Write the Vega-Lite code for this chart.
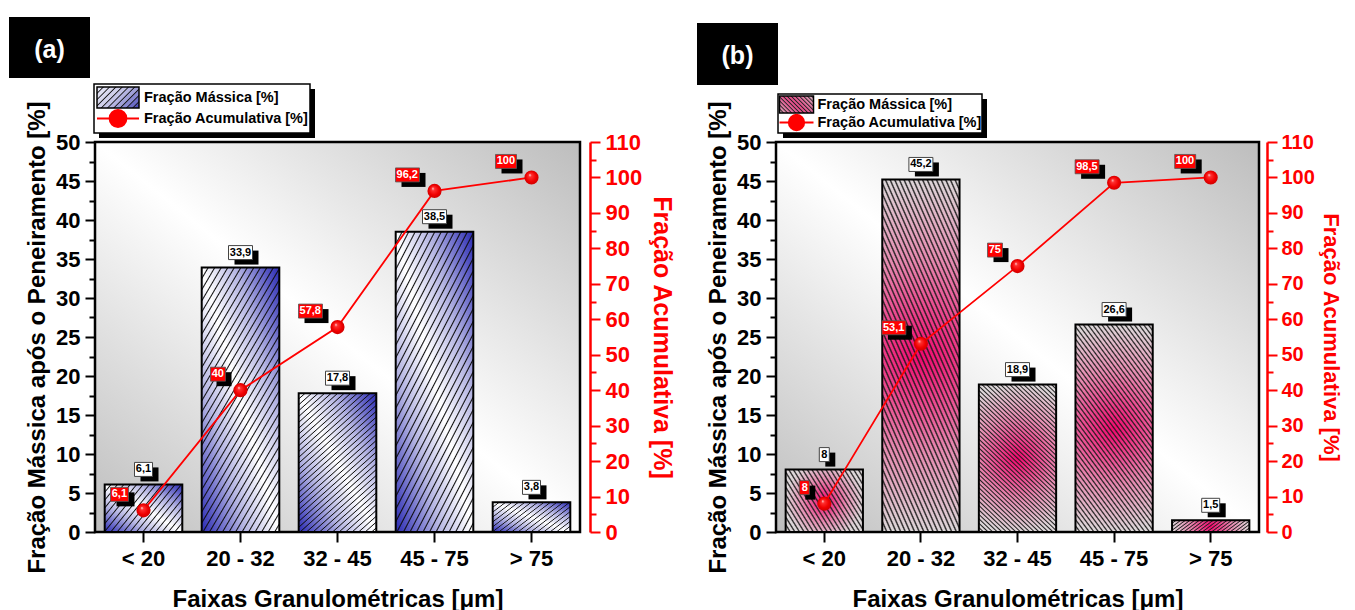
{
  "$schema": "https://vega.github.io/schema/vega-lite/v6.json",
  "background": "white",
  "padding": {"left": 7, "top": 15, "right": 0, "bottom": 0},
  "config": {
    "font": "Liberation Sans",
    "locale": {"number": {"decimal": ",", "thousands": ".", "grouping": [3], "currency": ["", ""]}},
    "axis": {"labelFont": "Liberation Sans", "labelFontWeight": "bold", "titleFont": "Liberation Sans", "titleFontWeight": "bold", "grid": false, "labelColor": "black", "titleColor": "black", "tickColor": "black", "domainColor": "black", "labelFlush": false}
  },
  "resolve": {"scale": {"shape": "independent"}},
  "hconcat": [
    {
      "width": 485,
      "height": 390,
      "view": {"stroke": "black", "strokeWidth": 2.5, "fill": {"gradient": "linear", "x1": 0, "y1": 1, "x2": 1, "y2": 0, "stops": [{"offset": 0, "color": "#bdbdbd"}, {"offset": 0.5, "color": "#ffffff"}, {"offset": 1, "color": "#bdbdbd"}]}},
      "data": {"values": [
        {"faixa": "< 20", "massa": 6.1, "acum": 6.1},
        {"faixa": "20 - 32", "massa": 33.9, "acum": 40},
        {"faixa": "32 - 45", "massa": 17.8, "acum": 57.8},
        {"faixa": "45 - 75", "massa": 38.5, "acum": 96.2},
        {"faixa": "> 75", "massa": 3.8, "acum": 100}
      ]},
      "resolve": {"scale": {"y": "independent", "shape": "independent"}},
      "layer": [
        {
          "data": {"values": [{"rotulo": "sombra"}]},
          "mark": {"type": "point", "filled": true, "fill": "black", "stroke": "black", "strokeWidth": 0, "opacity": 0},
          "encoding": {"shape": {"field": "rotulo", "type": "nominal", "scale": {"range": ["M-1,-1H1V-0.546H-1Z"]},
            "legend": {"title": null, "orient": "none", "legendX": 4, "legendY": -53, "padding": 0, "symbolSize": 46656, "symbolOpacity": 1, "symbolStrokeWidth": 0, "labelExpr": "''", "labelFontSize": 1}}}
        },
        {
          "data": {"values": [{"rotulo": "moldura"}]},
          "mark": {"type": "point", "filled": true, "fill": "white", "stroke": "black", "strokeWidth": 1.5, "opacity": 0},
          "encoding": {"shape": {"field": "rotulo", "type": "nominal", "scale": {"range": ["M-1,-1H1V-0.546H-1Z"]},
            "legend": {"title": null, "orient": "none", "legendX": -2, "legendY": -59, "padding": 0, "symbolSize": 46656, "symbolOpacity": 1, "symbolStrokeWidth": 1.5, "labelExpr": "''", "labelFontSize": 1}}}
        },
        {
          "mark": {"type": "bar", "fill": {"gradient": "linear", "x1": 0, "y1": 1, "x2": 1, "y2": 0, "stops": [{"offset": 0, "color": "#2a2ab4"}, {"offset": 0.28, "color": "#b4b4e2"}, {"offset": 0.5, "color": "#ffffff"}, {"offset": 0.72, "color": "#b4b4e2"}, {"offset": 1, "color": "#2a2ab4"}]}},
          "encoding": {
            "x": {"field": "faixa", "type": "nominal", "scale": {"domain": ["< 20", "20 - 32", "32 - 45", "45 - 75", "> 75"], "paddingInner": 0.2, "paddingOuter": 0.1}, "axis": {"title": "Faixas Granulométricas [μm]", "labelAngle": 0, "labelFontSize": 22, "labelPadding": 6, "tickSize": 10, "tickWidth": 2, "domain": false, "titleFontSize": 24, "titlePadding": 18}},
            "y": {"field": "massa", "type": "quantitative", "scale": {"domain": [0, 50], "nice": false}, "axis": {"orient": "left", "values": [0, 5, 10, 15, 20, 25, 30, 35, 40, 45, 50], "labelOverlap": false, "title": "Fração Mássica após o Peneiramento [%]", "titleFontSize": 24, "titlePadding": 6, "labelFontSize": 22, "labelPadding": 5, "tickSize": 10, "tickWidth": 2, "domain": false}}
          }
        },
        {
          "layer": [
            {
              "transform": [{"filter": "datum.massa >= 10"}],
              "mark": {"type": "bar", "stroke": "black", "strokeWidth": 2, "fill": {"gradient": "linear", "x1": 0, "y1": 0, "x2": 0.6, "y2": 1.2, "stops": [
                {"offset": 0, "color": "#111"}, {"offset": 0.005, "color": "#0000"}, {"offset": 0.023, "color": "#0000"},
                {"offset": 0.028, "color": "#111"}, {"offset": 0.033, "color": "#0000"}, {"offset": 0.051, "color": "#0000"},
                {"offset": 0.056, "color": "#111"}, {"offset": 0.061, "color": "#0000"}, {"offset": 0.079, "color": "#0000"},
                {"offset": 0.084, "color": "#111"}, {"offset": 0.089, "color": "#0000"}, {"offset": 0.107, "color": "#0000"},
                {"offset": 0.112, "color": "#111"}, {"offset": 0.117, "color": "#0000"}, {"offset": 0.135, "color": "#0000"},
                {"offset": 0.14, "color": "#111"}, {"offset": 0.145, "color": "#0000"}, {"offset": 0.163, "color": "#0000"},
                {"offset": 0.168, "color": "#111"}, {"offset": 0.173, "color": "#0000"}, {"offset": 0.191, "color": "#0000"},
                {"offset": 0.196, "color": "#111"}, {"offset": 0.201, "color": "#0000"}, {"offset": 0.219, "color": "#0000"},
                {"offset": 0.224, "color": "#111"}, {"offset": 0.229, "color": "#0000"}, {"offset": 0.247, "color": "#0000"},
                {"offset": 0.252, "color": "#111"}, {"offset": 0.257, "color": "#0000"}, {"offset": 0.275, "color": "#0000"},
                {"offset": 0.28, "color": "#111"}, {"offset": 0.285, "color": "#0000"}, {"offset": 0.303, "color": "#0000"},
                {"offset": 0.308, "color": "#111"}, {"offset": 0.313, "color": "#0000"}, {"offset": 0.331, "color": "#0000"},
                {"offset": 0.336, "color": "#111"}, {"offset": 0.341, "color": "#0000"}, {"offset": 0.359, "color": "#0000"},
                {"offset": 0.364, "color": "#111"}, {"offset": 0.369, "color": "#0000"}, {"offset": 0.387, "color": "#0000"},
                {"offset": 0.392, "color": "#111"}, {"offset": 0.397, "color": "#0000"}, {"offset": 0.415, "color": "#0000"},
                {"offset": 0.42, "color": "#111"}, {"offset": 0.425, "color": "#0000"}, {"offset": 0.443, "color": "#0000"},
                {"offset": 0.448, "color": "#111"}, {"offset": 0.453, "color": "#0000"}, {"offset": 0.471, "color": "#0000"},
                {"offset": 0.476, "color": "#111"}, {"offset": 0.481, "color": "#0000"}, {"offset": 0.499, "color": "#0000"},
                {"offset": 0.504, "color": "#111"}, {"offset": 0.509, "color": "#0000"}, {"offset": 0.527, "color": "#0000"},
                {"offset": 0.532, "color": "#111"}, {"offset": 0.537, "color": "#0000"}, {"offset": 0.555, "color": "#0000"},
                {"offset": 0.56, "color": "#111"}, {"offset": 0.565, "color": "#0000"}, {"offset": 0.583, "color": "#0000"},
                {"offset": 0.588, "color": "#111"}, {"offset": 0.593, "color": "#0000"}, {"offset": 0.611, "color": "#0000"},
                {"offset": 0.616, "color": "#111"}, {"offset": 0.621, "color": "#0000"}, {"offset": 0.639, "color": "#0000"},
                {"offset": 0.644, "color": "#111"}, {"offset": 0.649, "color": "#0000"}, {"offset": 0.667, "color": "#0000"},
                {"offset": 0.672, "color": "#111"}, {"offset": 0.677, "color": "#0000"}, {"offset": 0.695, "color": "#0000"},
                {"offset": 0.7, "color": "#111"}, {"offset": 0.705, "color": "#0000"}, {"offset": 0.723, "color": "#0000"},
                {"offset": 0.728, "color": "#111"}, {"offset": 0.733, "color": "#0000"}, {"offset": 0.751, "color": "#0000"},
                {"offset": 0.756, "color": "#111"}, {"offset": 0.761, "color": "#0000"}, {"offset": 0.779, "color": "#0000"},
                {"offset": 0.784, "color": "#111"}, {"offset": 0.789, "color": "#0000"}, {"offset": 0.807, "color": "#0000"},
                {"offset": 0.812, "color": "#111"}, {"offset": 0.817, "color": "#0000"}, {"offset": 0.835, "color": "#0000"},
                {"offset": 0.84, "color": "#111"}, {"offset": 0.845, "color": "#0000"}, {"offset": 0.863, "color": "#0000"},
                {"offset": 0.868, "color": "#111"}, {"offset": 0.873, "color": "#0000"}, {"offset": 0.891, "color": "#0000"},
                {"offset": 0.896, "color": "#111"}, {"offset": 0.901, "color": "#0000"}, {"offset": 0.919, "color": "#0000"},
                {"offset": 0.924, "color": "#111"}, {"offset": 0.929, "color": "#0000"}, {"offset": 0.947, "color": "#0000"},
                {"offset": 0.952, "color": "#111"}, {"offset": 0.957, "color": "#0000"}, {"offset": 0.975, "color": "#0000"},
                {"offset": 0.98, "color": "#111"}, {"offset": 0.985, "color": "#0000"}, {"offset": 1, "color": "#0000"}
              ]}},
              "encoding": {
                "x": {"field": "faixa", "type": "nominal"},
                "y": {"field": "massa", "type": "quantitative", "scale": {"domain": [0, 50], "nice": false}, "axis": {"orient": "left", "values": [2.5, 7.5, 12.5, 17.5, 22.5, 27.5, 32.5, 37.5, 42.5, 47.5], "title": null, "labels": false, "domain": false, "tickSize": 6, "tickWidth": 2}}
              }
            },
            {
              "transform": [{"filter": "datum.massa < 10"}],
              "mark": {"type": "bar", "stroke": "black", "strokeWidth": 2, "fill": {"gradient": "linear", "x1": 0, "y1": 0, "x2": 1.2, "y2": 0.6, "stops": [
                {"offset": 0, "color": "#111"}, {"offset": 0.01, "color": "#0000"}, {"offset": 0.045, "color": "#0000"},
                {"offset": 0.055, "color": "#111"}, {"offset": 0.065, "color": "#0000"}, {"offset": 0.1, "color": "#0000"},
                {"offset": 0.11, "color": "#111"}, {"offset": 0.12, "color": "#0000"}, {"offset": 0.155, "color": "#0000"},
                {"offset": 0.165, "color": "#111"}, {"offset": 0.175, "color": "#0000"}, {"offset": 0.21, "color": "#0000"},
                {"offset": 0.22, "color": "#111"}, {"offset": 0.23, "color": "#0000"}, {"offset": 0.265, "color": "#0000"},
                {"offset": 0.275, "color": "#111"}, {"offset": 0.285, "color": "#0000"}, {"offset": 0.32, "color": "#0000"},
                {"offset": 0.33, "color": "#111"}, {"offset": 0.34, "color": "#0000"}, {"offset": 0.375, "color": "#0000"},
                {"offset": 0.385, "color": "#111"}, {"offset": 0.395, "color": "#0000"}, {"offset": 0.43, "color": "#0000"},
                {"offset": 0.44, "color": "#111"}, {"offset": 0.45, "color": "#0000"}, {"offset": 0.485, "color": "#0000"},
                {"offset": 0.495, "color": "#111"}, {"offset": 0.505, "color": "#0000"}, {"offset": 0.54, "color": "#0000"},
                {"offset": 0.55, "color": "#111"}, {"offset": 0.56, "color": "#0000"}, {"offset": 0.595, "color": "#0000"},
                {"offset": 0.605, "color": "#111"}, {"offset": 0.615, "color": "#0000"}, {"offset": 0.65, "color": "#0000"},
                {"offset": 0.66, "color": "#111"}, {"offset": 0.67, "color": "#0000"}, {"offset": 0.705, "color": "#0000"},
                {"offset": 0.715, "color": "#111"}, {"offset": 0.725, "color": "#0000"}, {"offset": 0.76, "color": "#0000"},
                {"offset": 0.77, "color": "#111"}, {"offset": 0.78, "color": "#0000"}, {"offset": 0.815, "color": "#0000"},
                {"offset": 0.825, "color": "#111"}, {"offset": 0.835, "color": "#0000"}, {"offset": 0.87, "color": "#0000"},
                {"offset": 0.88, "color": "#111"}, {"offset": 0.89, "color": "#0000"}, {"offset": 0.925, "color": "#0000"},
                {"offset": 0.935, "color": "#111"}, {"offset": 0.945, "color": "#0000"}, {"offset": 0.98, "color": "#0000"},
                {"offset": 0.99, "color": "#111"}, {"offset": 1, "color": "#0000"}
              ]}},
              "encoding": {
                "x": {"field": "faixa", "type": "nominal"},
                "y": {"field": "massa", "type": "quantitative", "scale": {"domain": [0, 50], "nice": false}}
              }
            },
            {
              "mark": {"type": "point", "filled": true, "fill": "black", "opacity": 1, "size": 400, "strokeWidth": 0, "xOffset": 6, "yOffset": -3},
              "encoding": {
                "x": {"field": "faixa", "type": "nominal"},
                "y": {"field": "massa", "type": "quantitative", "scale": {"domain": [0, 50], "nice": false}},
                "shape": {"field": "massa", "type": "nominal", "legend": null, "scale": {"domain": [6.1, 33.9, 17.8, 38.5, 3.8], "range": ["M-0.9,-1.4H0.9V0H-0.9Z", "M-1.2,-1.4H1.2V0H-1.2Z", "M-1.2,-1.4H1.2V0H-1.2Z", "M-1.2,-1.4H1.2V0H-1.2Z", "M-0.9,-1.4H0.9V0H-0.9Z"]}}
              }
            },
            {
              "mark": {"type": "point", "filled": true, "fill": "white", "stroke": "#444", "strokeWidth": 1, "opacity": 1, "size": 400, "yOffset": -8},
              "encoding": {
                "x": {"field": "faixa", "type": "nominal"},
                "y": {"field": "massa", "type": "quantitative", "scale": {"domain": [0, 50], "nice": false}},
                "shape": {"field": "massa", "type": "nominal", "legend": null, "scale": {"domain": [6.1, 33.9, 17.8, 38.5, 3.8], "range": ["M-0.9,-1.4H0.9V0H-0.9Z", "M-1.2,-1.4H1.2V0H-1.2Z", "M-1.2,-1.4H1.2V0H-1.2Z", "M-1.2,-1.4H1.2V0H-1.2Z", "M-0.9,-1.4H0.9V0H-0.9Z"]}}
              }
            },
            {
              "mark": {"type": "text", "font": "Liberation Sans", "fontSize": 11, "fontWeight": "bold", "color": "black", "align": "center", "baseline": "middle", "dy": -15},
              "encoding": {
                "x": {"field": "faixa", "type": "nominal"},
                "y": {"field": "massa", "type": "quantitative", "scale": {"domain": [0, 50], "nice": false}},
                "text": {"field": "massa", "type": "quantitative", "format": ".1~f"}
              }
            }
          ]
        },
        {
          "layer": [
            {
              "mark": {"type": "line", "color": "red", "strokeWidth": 1.8},
              "encoding": {
                "x": {"field": "faixa", "type": "nominal"},
                "y": {"field": "acum", "type": "quantitative", "scale": {"domain": [0, 110], "nice": false}, "axis": {"orient": "right", "offset": 10, "values": [5, 15, 25, 35, 45, 55, 65, 75, 85, 95, 105], "title": null, "labels": false, "domain": false, "tickSize": 6, "tickWidth": 2, "tickColor": "red"}},
                "order": {"field": "acum", "type": "quantitative"}
              }
            },
            {
              "mark": {"type": "point", "filled": true, "fill": "black", "opacity": 1, "size": 400, "strokeWidth": 0, "xOffset": -9, "yOffset": -4},
              "encoding": {
                "x": {"field": "faixa", "type": "nominal"},
                "y": {"field": "acum", "type": "quantitative", "scale": {"domain": [0, 110], "nice": false}},
                "shape": {"field": "acum", "type": "nominal", "legend": null, "scale": {"domain": [6.1, 40, 57.8, 96.2, 100], "range": ["M-1.8,-1.4H0V0H-1.8Z", "M-1.5,-1.4H0V0H-1.5Z", "M-2.4,-1.4H0V0H-2.4Z", "M-2.4,-1.4H0V0H-2.4Z", "M-2.1,-1.4H0V0H-2.1Z"]}}
              }
            },
            {
              "mark": {"type": "point", "filled": true, "fill": "#ff0000", "stroke": "#555", "strokeWidth": 0.8, "opacity": 1, "size": 400, "xOffset": -15, "yOffset": -9},
              "encoding": {
                "x": {"field": "faixa", "type": "nominal"},
                "y": {"field": "acum", "type": "quantitative", "scale": {"domain": [0, 110], "nice": false}},
                "shape": {"field": "acum", "type": "nominal", "legend": null, "scale": {"domain": [6.1, 40, 57.8, 96.2, 100], "range": ["M-1.8,-1.4H0V0H-1.8Z", "M-1.5,-1.4H0V0H-1.5Z", "M-2.4,-1.4H0V0H-2.4Z", "M-2.4,-1.4H0V0H-2.4Z", "M-2.1,-1.4H0V0H-2.1Z"]}}
              }
            },
            {
              "mark": {"type": "text", "font": "Liberation Sans", "fontSize": 11, "fontWeight": "bold", "color": "white", "align": "right", "baseline": "middle", "dx": -16.5, "dy": -16},
              "encoding": {
                "x": {"field": "faixa", "type": "nominal"},
                "y": {"field": "acum", "type": "quantitative", "scale": {"domain": [0, 110], "nice": false}},
                "text": {"field": "acum", "type": "quantitative", "format": ".1~f"}
              }
            }
          ]
        },
        {
          "mark": {"type": "point", "filled": true, "opacity": 1, "size": 200, "strokeWidth": 0, "fill": {"gradient": "radial", "x1": 0.38, "y1": 0.32, "r1": 0, "x2": 0.5, "y2": 0.5, "r2": 0.5, "stops": [{"offset": 0, "color": "#ffe6e6"}, {"offset": 0.22, "color": "#ff3030"}, {"offset": 0.7, "color": "#f00000"}, {"offset": 1, "color": "#d00000"}]}},
          "encoding": {
            "x": {"field": "faixa", "type": "nominal"},
            "y": {"field": "acum", "type": "quantitative", "scale": {"domain": [0, 110], "nice": false}, "axis": {"orient": "right", "offset": 10, "values": [0, 10, 20, 30, 40, 50, 60, 70, 80, 90, 100, 110], "labelOverlap": false, "title": "Fração Acumulativa [%]", "titleFontSize": 25, "titleColor": "red", "titlePadding": 7, "labelFontSize": 22, "labelColor": "red", "labelPadding": 5, "tickSize": 10, "tickWidth": 2, "tickColor": "red", "domain": true, "domainColor": "red", "domainWidth": 2.5}}
          }
        },
        {
          "data": {"values": [{"rotulo": "Fração Mássica [%]"}]},
          "mark": {"type": "point", "filled": true, "stroke": "black", "strokeWidth": 1.5, "opacity": 0, "fill": {"gradient": "linear", "x1": 0, "y1": 0, "x2": 1.2, "y2": 0.6, "stops": [
            {"offset": 0, "color": "#111"}, {"offset": 0.02, "color": "#e4e4f4"}, {"offset": 0.08, "color": "#e4e4f4"},
            {"offset": 0.1, "color": "#111"}, {"offset": 0.12, "color": "#e0e0f2"}, {"offset": 0.18, "color": "#e0e0f2"},
            {"offset": 0.2, "color": "#111"}, {"offset": 0.22, "color": "#d8d8ee"}, {"offset": 0.28, "color": "#d8d8ee"},
            {"offset": 0.3, "color": "#111"}, {"offset": 0.32, "color": "#d0d0ea"}, {"offset": 0.38, "color": "#d0d0ea"},
            {"offset": 0.4, "color": "#111"}, {"offset": 0.42, "color": "#c4c4e6"}, {"offset": 0.48, "color": "#c4c4e6"},
            {"offset": 0.5, "color": "#111"}, {"offset": 0.52, "color": "#b4b4e0"}, {"offset": 0.58, "color": "#b4b4e0"},
            {"offset": 0.6, "color": "#111"}, {"offset": 0.62, "color": "#a0a0d8"}, {"offset": 0.68, "color": "#a0a0d8"},
            {"offset": 0.7, "color": "#111"}, {"offset": 0.72, "color": "#8888d0"}, {"offset": 0.78, "color": "#8888d0"},
            {"offset": 0.8, "color": "#111"}, {"offset": 0.82, "color": "#6c6cc6"}, {"offset": 0.88, "color": "#6c6cc6"},
            {"offset": 0.9, "color": "#111"}, {"offset": 0.92, "color": "#5050bc"}, {"offset": 0.98, "color": "#5050bc"},
            {"offset": 1, "color": "#111"}
          ]}},
          "encoding": {"shape": {"field": "rotulo", "type": "nominal", "scale": {"range": ["M-1,-0.5H1V0.5H-1Z"]},
            "legend": {"title": null, "orient": "none", "legendX": 1, "legendY": -66.5, "padding": 0, "symbolSize": 1764, "symbolOpacity": 1, "symbolStrokeWidth": 1.5, "labelFontSize": 14.5, "labelFont": "Liberation Sans", "labelFontWeight": "bold", "labelColor": "black", "labelOffset": 4, "labelLimit": 400}}}
        },
        {
          "data": {"values": [{"rotulo": "Fração Acumulativa [%]"}]},
          "mark": {"type": "point", "filled": true, "fill": "red", "stroke": "red", "strokeWidth": 2, "opacity": 0},
          "encoding": {"shape": {"field": "rotulo", "type": "nominal", "scale": {"range": ["M-1,0H1M-0.4,0A0.4,0.4,0,1,1,0.4,0A0.4,0.4,0,1,1,-0.4,0Z"]},
            "legend": {"title": null, "orient": "none", "legendX": 1, "legendY": -45.5, "padding": 0, "symbolSize": 1764, "symbolOpacity": 1, "symbolStrokeWidth": 2, "labelFontSize": 14.5, "labelFont": "Liberation Sans", "labelFontWeight": "bold", "labelColor": "black", "labelOffset": 4, "labelLimit": 400}}}
        },
        {
          "data": {"values": [{"rotulo": "(a)"}]},
          "mark": {"type": "point", "filled": true, "fill": "black", "stroke": "black", "strokeWidth": 0, "opacity": 0},
          "encoding": {"shape": {"field": "rotulo", "type": "nominal", "scale": {"range": ["M-1,-1H1V0.506H-1Z"]},
            "legend": {"title": null, "orient": "none", "legendX": -86, "legendY": -125, "padding": 0, "symbolSize": 6561, "symbolOpacity": 1, "symbolStrokeWidth": 0, "labelFontSize": 25, "labelFont": "Liberation Sans", "labelFontWeight": "bold", "labelColor": "white", "labelAlign": "center", "labelBaseline": "alphabetic", "labelOffset": -40.5}}}
        }
      ]
    },
    {
      "width": 483,
      "height": 390,
      "view": {"stroke": "black", "strokeWidth": 2.5, "fill": {"gradient": "linear", "x1": 0, "y1": 1, "x2": 1, "y2": 0, "stops": [{"offset": 0, "color": "#bdbdbd"}, {"offset": 0.5, "color": "#ffffff"}, {"offset": 1, "color": "#bdbdbd"}]}},
      "data": {"values": [
        {"faixa": "< 20", "massa": 8, "acum": 8},
        {"faixa": "20 - 32", "massa": 45.2, "acum": 53.1},
        {"faixa": "32 - 45", "massa": 18.9, "acum": 75},
        {"faixa": "45 - 75", "massa": 26.6, "acum": 98.5},
        {"faixa": "> 75", "massa": 1.5, "acum": 100}
      ]},
      "resolve": {"scale": {"y": "independent", "shape": "independent"}},
      "layer": [
        {
          "data": {"values": [{"rotulo": "sombra"}]},
          "mark": {"type": "point", "filled": true, "fill": "black", "stroke": "black", "strokeWidth": 0, "opacity": 0},
          "encoding": {"shape": {"field": "rotulo", "type": "nominal", "scale": {"range": ["M-1,-1H1V-0.618H-1Z"]},
            "legend": {"title": null, "orient": "none", "legendX": 7, "legendY": -43, "padding": 0, "symbolSize": 41616, "symbolOpacity": 1, "symbolStrokeWidth": 0, "labelExpr": "''", "labelFontSize": 1}}}
        },
        {
          "data": {"values": [{"rotulo": "moldura"}]},
          "mark": {"type": "point", "filled": true, "fill": "white", "stroke": "black", "strokeWidth": 1.5, "opacity": 0},
          "encoding": {"shape": {"field": "rotulo", "type": "nominal", "scale": {"range": ["M-1,-1H1V-0.618H-1Z"]},
            "legend": {"title": null, "orient": "none", "legendX": 1, "legendY": -49, "padding": 0, "symbolSize": 41616, "symbolOpacity": 1, "symbolStrokeWidth": 1.5, "labelExpr": "''", "labelFontSize": 1}}}
        },
        {
          "mark": {"type": "bar", "fill": {"gradient": "radial", "x1": 0.5, "y1": 0.5, "r1": 0, "x2": 0.5, "y2": 0.5, "r2": 0.5, "stops": [{"offset": 0, "color": "#f0086e"}, {"offset": 0.55, "color": "#e68ab0"}, {"offset": 1, "color": "#dcd6d8"}]}},
          "encoding": {
            "x": {"field": "faixa", "type": "nominal", "scale": {"domain": ["< 20", "20 - 32", "32 - 45", "45 - 75", "> 75"], "paddingInner": 0.2, "paddingOuter": 0.1}, "axis": {"title": "Faixas Granulométricas [μm]", "labelAngle": 0, "labelFontSize": 22, "labelPadding": 6, "tickSize": 10, "tickWidth": 2, "domain": false, "titleFontSize": 24, "titlePadding": 18}},
            "y": {"field": "massa", "type": "quantitative", "scale": {"domain": [0, 50], "nice": false}, "axis": {"orient": "left", "values": [0, 5, 10, 15, 20, 25, 30, 35, 40, 45, 50], "labelOverlap": false, "title": "Fração Mássica após o Peneiramento [%]", "titleFontSize": 24, "titlePadding": 6, "labelFontSize": 22, "labelPadding": 5, "tickSize": 10, "tickWidth": 2, "domain": false}}
          }
        },
        {
          "layer": [
            {
              "transform": [{"filter": "datum.massa >= 10"}],
              "mark": {"type": "bar", "stroke": "black", "strokeWidth": 2, "fill": {"gradient": "linear", "x1": 0, "y1": 1, "x2": 0.6, "y2": -0.2, "stops": [
                {"offset": 0, "color": "#222"}, {"offset": 0.006, "color": "#0000"}, {"offset": 0.014, "color": "#0000"},
                {"offset": 0.02, "color": "#222"}, {"offset": 0.026, "color": "#0000"}, {"offset": 0.034, "color": "#0000"},
                {"offset": 0.04, "color": "#222"}, {"offset": 0.046, "color": "#0000"}, {"offset": 0.054, "color": "#0000"},
                {"offset": 0.06, "color": "#222"}, {"offset": 0.066, "color": "#0000"}, {"offset": 0.074, "color": "#0000"},
                {"offset": 0.08, "color": "#222"}, {"offset": 0.086, "color": "#0000"}, {"offset": 0.094, "color": "#0000"},
                {"offset": 0.1, "color": "#222"}, {"offset": 0.106, "color": "#0000"}, {"offset": 0.114, "color": "#0000"},
                {"offset": 0.12, "color": "#222"}, {"offset": 0.126, "color": "#0000"}, {"offset": 0.134, "color": "#0000"},
                {"offset": 0.14, "color": "#222"}, {"offset": 0.146, "color": "#0000"}, {"offset": 0.154, "color": "#0000"},
                {"offset": 0.16, "color": "#222"}, {"offset": 0.166, "color": "#0000"}, {"offset": 0.174, "color": "#0000"},
                {"offset": 0.18, "color": "#222"}, {"offset": 0.186, "color": "#0000"}, {"offset": 0.194, "color": "#0000"},
                {"offset": 0.2, "color": "#222"}, {"offset": 0.206, "color": "#0000"}, {"offset": 0.214, "color": "#0000"},
                {"offset": 0.22, "color": "#222"}, {"offset": 0.226, "color": "#0000"}, {"offset": 0.234, "color": "#0000"},
                {"offset": 0.24, "color": "#222"}, {"offset": 0.246, "color": "#0000"}, {"offset": 0.254, "color": "#0000"},
                {"offset": 0.26, "color": "#222"}, {"offset": 0.266, "color": "#0000"}, {"offset": 0.274, "color": "#0000"},
                {"offset": 0.28, "color": "#222"}, {"offset": 0.286, "color": "#0000"}, {"offset": 0.294, "color": "#0000"},
                {"offset": 0.3, "color": "#222"}, {"offset": 0.306, "color": "#0000"}, {"offset": 0.314, "color": "#0000"},
                {"offset": 0.32, "color": "#222"}, {"offset": 0.326, "color": "#0000"}, {"offset": 0.334, "color": "#0000"},
                {"offset": 0.34, "color": "#222"}, {"offset": 0.346, "color": "#0000"}, {"offset": 0.354, "color": "#0000"},
                {"offset": 0.36, "color": "#222"}, {"offset": 0.366, "color": "#0000"}, {"offset": 0.374, "color": "#0000"},
                {"offset": 0.38, "color": "#222"}, {"offset": 0.386, "color": "#0000"}, {"offset": 0.394, "color": "#0000"},
                {"offset": 0.4, "color": "#222"}, {"offset": 0.406, "color": "#0000"}, {"offset": 0.414, "color": "#0000"},
                {"offset": 0.42, "color": "#222"}, {"offset": 0.426, "color": "#0000"}, {"offset": 0.434, "color": "#0000"},
                {"offset": 0.44, "color": "#222"}, {"offset": 0.446, "color": "#0000"}, {"offset": 0.454, "color": "#0000"},
                {"offset": 0.46, "color": "#222"}, {"offset": 0.466, "color": "#0000"}, {"offset": 0.474, "color": "#0000"},
                {"offset": 0.48, "color": "#222"}, {"offset": 0.486, "color": "#0000"}, {"offset": 0.494, "color": "#0000"},
                {"offset": 0.5, "color": "#222"}, {"offset": 0.506, "color": "#0000"}, {"offset": 0.514, "color": "#0000"},
                {"offset": 0.52, "color": "#222"}, {"offset": 0.526, "color": "#0000"}, {"offset": 0.534, "color": "#0000"},
                {"offset": 0.54, "color": "#222"}, {"offset": 0.546, "color": "#0000"}, {"offset": 0.554, "color": "#0000"},
                {"offset": 0.56, "color": "#222"}, {"offset": 0.566, "color": "#0000"}, {"offset": 0.574, "color": "#0000"},
                {"offset": 0.58, "color": "#222"}, {"offset": 0.586, "color": "#0000"}, {"offset": 0.594, "color": "#0000"},
                {"offset": 0.6, "color": "#222"}, {"offset": 0.606, "color": "#0000"}, {"offset": 0.614, "color": "#0000"},
                {"offset": 0.62, "color": "#222"}, {"offset": 0.626, "color": "#0000"}, {"offset": 0.634, "color": "#0000"},
                {"offset": 0.64, "color": "#222"}, {"offset": 0.646, "color": "#0000"}, {"offset": 0.654, "color": "#0000"},
                {"offset": 0.66, "color": "#222"}, {"offset": 0.666, "color": "#0000"}, {"offset": 0.674, "color": "#0000"},
                {"offset": 0.68, "color": "#222"}, {"offset": 0.686, "color": "#0000"}, {"offset": 0.694, "color": "#0000"},
                {"offset": 0.7, "color": "#222"}, {"offset": 0.706, "color": "#0000"}, {"offset": 0.714, "color": "#0000"},
                {"offset": 0.72, "color": "#222"}, {"offset": 0.726, "color": "#0000"}, {"offset": 0.734, "color": "#0000"},
                {"offset": 0.74, "color": "#222"}, {"offset": 0.746, "color": "#0000"}, {"offset": 0.754, "color": "#0000"},
                {"offset": 0.76, "color": "#222"}, {"offset": 0.766, "color": "#0000"}, {"offset": 0.774, "color": "#0000"},
                {"offset": 0.78, "color": "#222"}, {"offset": 0.786, "color": "#0000"}, {"offset": 0.794, "color": "#0000"},
                {"offset": 0.8, "color": "#222"}, {"offset": 0.806, "color": "#0000"}, {"offset": 0.814, "color": "#0000"},
                {"offset": 0.82, "color": "#222"}, {"offset": 0.826, "color": "#0000"}, {"offset": 0.834, "color": "#0000"},
                {"offset": 0.84, "color": "#222"}, {"offset": 0.846, "color": "#0000"}, {"offset": 0.854, "color": "#0000"},
                {"offset": 0.86, "color": "#222"}, {"offset": 0.866, "color": "#0000"}, {"offset": 0.874, "color": "#0000"},
                {"offset": 0.88, "color": "#222"}, {"offset": 0.886, "color": "#0000"}, {"offset": 0.894, "color": "#0000"},
                {"offset": 0.9, "color": "#222"}, {"offset": 0.906, "color": "#0000"}, {"offset": 0.914, "color": "#0000"},
                {"offset": 0.92, "color": "#222"}, {"offset": 0.926, "color": "#0000"}, {"offset": 0.934, "color": "#0000"},
                {"offset": 0.94, "color": "#222"}, {"offset": 0.946, "color": "#0000"}, {"offset": 0.954, "color": "#0000"},
                {"offset": 0.96, "color": "#222"}, {"offset": 0.966, "color": "#0000"}, {"offset": 0.974, "color": "#0000"},
                {"offset": 0.98, "color": "#222"}, {"offset": 0.986, "color": "#0000"}, {"offset": 0.994, "color": "#0000"},
                {"offset": 1, "color": "#222"}
              ]}},
              "encoding": {
                "x": {"field": "faixa", "type": "nominal"},
                "y": {"field": "massa", "type": "quantitative", "scale": {"domain": [0, 50], "nice": false}, "axis": {"orient": "left", "values": [2.5, 7.5, 12.5, 17.5, 22.5, 27.5, 32.5, 37.5, 42.5, 47.5], "title": null, "labels": false, "domain": false, "tickSize": 6, "tickWidth": 2}}
              }
            },
            {
              "transform": [{"filter": "datum.massa < 10"}],
              "mark": {"type": "bar", "stroke": "black", "strokeWidth": 2, "fill": {"gradient": "linear", "x1": 0, "y1": 1, "x2": 1.2, "y2": 0.4, "stops": [
                {"offset": 0, "color": "#222"}, {"offset": 0.012, "color": "#0000"}, {"offset": 0.028, "color": "#0000"},
                {"offset": 0.04, "color": "#222"}, {"offset": 0.052, "color": "#0000"}, {"offset": 0.068, "color": "#0000"},
                {"offset": 0.08, "color": "#222"}, {"offset": 0.092, "color": "#0000"}, {"offset": 0.108, "color": "#0000"},
                {"offset": 0.12, "color": "#222"}, {"offset": 0.132, "color": "#0000"}, {"offset": 0.148, "color": "#0000"},
                {"offset": 0.16, "color": "#222"}, {"offset": 0.172, "color": "#0000"}, {"offset": 0.188, "color": "#0000"},
                {"offset": 0.2, "color": "#222"}, {"offset": 0.212, "color": "#0000"}, {"offset": 0.228, "color": "#0000"},
                {"offset": 0.24, "color": "#222"}, {"offset": 0.252, "color": "#0000"}, {"offset": 0.268, "color": "#0000"},
                {"offset": 0.28, "color": "#222"}, {"offset": 0.292, "color": "#0000"}, {"offset": 0.308, "color": "#0000"},
                {"offset": 0.32, "color": "#222"}, {"offset": 0.332, "color": "#0000"}, {"offset": 0.348, "color": "#0000"},
                {"offset": 0.36, "color": "#222"}, {"offset": 0.372, "color": "#0000"}, {"offset": 0.388, "color": "#0000"},
                {"offset": 0.4, "color": "#222"}, {"offset": 0.412, "color": "#0000"}, {"offset": 0.428, "color": "#0000"},
                {"offset": 0.44, "color": "#222"}, {"offset": 0.452, "color": "#0000"}, {"offset": 0.468, "color": "#0000"},
                {"offset": 0.48, "color": "#222"}, {"offset": 0.492, "color": "#0000"}, {"offset": 0.508, "color": "#0000"},
                {"offset": 0.52, "color": "#222"}, {"offset": 0.532, "color": "#0000"}, {"offset": 0.548, "color": "#0000"},
                {"offset": 0.56, "color": "#222"}, {"offset": 0.572, "color": "#0000"}, {"offset": 0.588, "color": "#0000"},
                {"offset": 0.6, "color": "#222"}, {"offset": 0.612, "color": "#0000"}, {"offset": 0.628, "color": "#0000"},
                {"offset": 0.64, "color": "#222"}, {"offset": 0.652, "color": "#0000"}, {"offset": 0.668, "color": "#0000"},
                {"offset": 0.68, "color": "#222"}, {"offset": 0.692, "color": "#0000"}, {"offset": 0.708, "color": "#0000"},
                {"offset": 0.72, "color": "#222"}, {"offset": 0.732, "color": "#0000"}, {"offset": 0.748, "color": "#0000"},
                {"offset": 0.76, "color": "#222"}, {"offset": 0.772, "color": "#0000"}, {"offset": 0.788, "color": "#0000"},
                {"offset": 0.8, "color": "#222"}, {"offset": 0.812, "color": "#0000"}, {"offset": 0.828, "color": "#0000"},
                {"offset": 0.84, "color": "#222"}, {"offset": 0.852, "color": "#0000"}, {"offset": 0.868, "color": "#0000"},
                {"offset": 0.88, "color": "#222"}, {"offset": 0.892, "color": "#0000"}, {"offset": 0.908, "color": "#0000"},
                {"offset": 0.92, "color": "#222"}, {"offset": 0.932, "color": "#0000"}, {"offset": 0.948, "color": "#0000"},
                {"offset": 0.96, "color": "#222"}, {"offset": 0.972, "color": "#0000"}, {"offset": 0.988, "color": "#0000"},
                {"offset": 1, "color": "#222"}
              ]}},
              "encoding": {
                "x": {"field": "faixa", "type": "nominal"},
                "y": {"field": "massa", "type": "quantitative", "scale": {"domain": [0, 50], "nice": false}}
              }
            },
            {
              "mark": {"type": "point", "filled": true, "fill": "black", "opacity": 1, "size": 400, "strokeWidth": 0, "xOffset": 6, "yOffset": -3},
              "encoding": {
                "x": {"field": "faixa", "type": "nominal"},
                "y": {"field": "massa", "type": "quantitative", "scale": {"domain": [0, 50], "nice": false}},
                "shape": {"field": "massa", "type": "nominal", "legend": null, "scale": {"domain": [8, 45.2, 18.9, 26.6, 1.5], "range": ["M-0.5,-1.4H0.5V0H-0.5Z", "M-1.2,-1.4H1.2V0H-1.2Z", "M-1.2,-1.4H1.2V0H-1.2Z", "M-1.2,-1.4H1.2V0H-1.2Z", "M-0.9,-1.4H0.9V0H-0.9Z"]}}
              }
            },
            {
              "mark": {"type": "point", "filled": true, "fill": "white", "stroke": "#444", "strokeWidth": 1, "opacity": 1, "size": 400, "yOffset": -8},
              "encoding": {
                "x": {"field": "faixa", "type": "nominal"},
                "y": {"field": "massa", "type": "quantitative", "scale": {"domain": [0, 50], "nice": false}},
                "shape": {"field": "massa", "type": "nominal", "legend": null, "scale": {"domain": [8, 45.2, 18.9, 26.6, 1.5], "range": ["M-0.5,-1.4H0.5V0H-0.5Z", "M-1.2,-1.4H1.2V0H-1.2Z", "M-1.2,-1.4H1.2V0H-1.2Z", "M-1.2,-1.4H1.2V0H-1.2Z", "M-0.9,-1.4H0.9V0H-0.9Z"]}}
              }
            },
            {
              "mark": {"type": "text", "font": "Liberation Sans", "fontSize": 11, "fontWeight": "bold", "color": "black", "align": "center", "baseline": "middle", "dy": -15},
              "encoding": {
                "x": {"field": "faixa", "type": "nominal"},
                "y": {"field": "massa", "type": "quantitative", "scale": {"domain": [0, 50], "nice": false}},
                "text": {"field": "massa", "type": "quantitative", "format": ".1~f"}
              }
            }
          ]
        },
        {
          "layer": [
            {
              "mark": {"type": "line", "color": "red", "strokeWidth": 1.8},
              "encoding": {
                "x": {"field": "faixa", "type": "nominal"},
                "y": {"field": "acum", "type": "quantitative", "scale": {"domain": [0, 110], "nice": false}, "axis": {"orient": "right", "offset": 8, "values": [5, 15, 25, 35, 45, 55, 65, 75, 85, 95, 105], "title": null, "labels": false, "domain": false, "tickSize": 6, "tickWidth": 2, "tickColor": "red"}},
                "order": {"field": "acum", "type": "quantitative"}
              }
            },
            {
              "mark": {"type": "point", "filled": true, "fill": "black", "opacity": 1, "size": 400, "strokeWidth": 0, "xOffset": -9, "yOffset": -4},
              "encoding": {
                "x": {"field": "faixa", "type": "nominal"},
                "y": {"field": "acum", "type": "quantitative", "scale": {"domain": [0, 110], "nice": false}},
                "shape": {"field": "acum", "type": "nominal", "legend": null, "scale": {"domain": [8, 53.1, 75, 98.5, 100], "range": ["M-1,-1.4H0V0H-1Z", "M-2.4,-1.4H0V0H-2.4Z", "M-1.5,-1.4H0V0H-1.5Z", "M-2.4,-1.4H0V0H-2.4Z", "M-2.1,-1.4H0V0H-2.1Z"]}}
              }
            },
            {
              "mark": {"type": "point", "filled": true, "fill": "#ff0000", "stroke": "#555", "strokeWidth": 0.8, "opacity": 1, "size": 400, "xOffset": -15, "yOffset": -9},
              "encoding": {
                "x": {"field": "faixa", "type": "nominal"},
                "y": {"field": "acum", "type": "quantitative", "scale": {"domain": [0, 110], "nice": false}},
                "shape": {"field": "acum", "type": "nominal", "legend": null, "scale": {"domain": [8, 53.1, 75, 98.5, 100], "range": ["M-1,-1.4H0V0H-1Z", "M-2.4,-1.4H0V0H-2.4Z", "M-1.5,-1.4H0V0H-1.5Z", "M-2.4,-1.4H0V0H-2.4Z", "M-2.1,-1.4H0V0H-2.1Z"]}}
              }
            },
            {
              "mark": {"type": "text", "font": "Liberation Sans", "fontSize": 11, "fontWeight": "bold", "color": "white", "align": "right", "baseline": "middle", "dx": -16.5, "dy": -16},
              "encoding": {
                "x": {"field": "faixa", "type": "nominal"},
                "y": {"field": "acum", "type": "quantitative", "scale": {"domain": [0, 110], "nice": false}},
                "text": {"field": "acum", "type": "quantitative", "format": ".1~f"}
              }
            }
          ]
        },
        {
          "mark": {"type": "point", "filled": true, "opacity": 1, "size": 200, "strokeWidth": 0, "fill": {"gradient": "radial", "x1": 0.38, "y1": 0.32, "r1": 0, "x2": 0.5, "y2": 0.5, "r2": 0.5, "stops": [{"offset": 0, "color": "#ffe6e6"}, {"offset": 0.22, "color": "#ff3030"}, {"offset": 0.7, "color": "#f00000"}, {"offset": 1, "color": "#d00000"}]}},
          "encoding": {
            "x": {"field": "faixa", "type": "nominal"},
            "y": {"field": "acum", "type": "quantitative", "scale": {"domain": [0, 110], "nice": false}, "axis": {"orient": "right", "offset": 8, "values": [0, 10, 20, 30, 40, 50, 60, 70, 80, 90, 100, 110], "labelOverlap": false, "title": "Fração Acumulativa [%]", "titleFontSize": 22, "titleColor": "red", "titlePadding": 4, "labelFontSize": 20, "labelColor": "red", "labelPadding": 4, "tickSize": 10, "tickWidth": 2, "tickColor": "red", "domain": true, "domainColor": "red", "domainWidth": 2.5}}
          }
        },
        {
          "data": {"values": [{"rotulo": "Fração Mássica [%]"}]},
          "mark": {"type": "point", "filled": true, "stroke": "black", "strokeWidth": 1.5, "opacity": 0, "fill": {"gradient": "linear", "x1": 0, "y1": 1, "x2": 1.2, "y2": 0.4, "stops": [
            {"offset": 0, "color": "#222"}, {"offset": 0.025, "color": "#d0a0b4"}, {"offset": 0.055, "color": "#d0a0b4"},
            {"offset": 0.08, "color": "#222"}, {"offset": 0.105, "color": "#d68aa8"}, {"offset": 0.135, "color": "#d68aa8"},
            {"offset": 0.16, "color": "#222"}, {"offset": 0.185, "color": "#dc78a0"}, {"offset": 0.215, "color": "#dc78a0"},
            {"offset": 0.24, "color": "#222"}, {"offset": 0.265, "color": "#e06a9a"}, {"offset": 0.295, "color": "#e06a9a"},
            {"offset": 0.32, "color": "#222"}, {"offset": 0.345, "color": "#e45a92"}, {"offset": 0.375, "color": "#e45a92"},
            {"offset": 0.4, "color": "#222"}, {"offset": 0.425, "color": "#e6508c"}, {"offset": 0.455, "color": "#e6508c"},
            {"offset": 0.48, "color": "#222"}, {"offset": 0.505, "color": "#e6508c"}, {"offset": 0.535, "color": "#e6508c"},
            {"offset": 0.56, "color": "#222"}, {"offset": 0.585, "color": "#e45a92"}, {"offset": 0.615, "color": "#e45a92"},
            {"offset": 0.64, "color": "#222"}, {"offset": 0.665, "color": "#e06a9a"}, {"offset": 0.695, "color": "#e06a9a"},
            {"offset": 0.72, "color": "#222"}, {"offset": 0.745, "color": "#dc78a0"}, {"offset": 0.775, "color": "#dc78a0"},
            {"offset": 0.8, "color": "#222"}, {"offset": 0.825, "color": "#d68aa8"}, {"offset": 0.855, "color": "#d68aa8"},
            {"offset": 0.88, "color": "#222"}, {"offset": 0.905, "color": "#d0a0b4"}, {"offset": 0.935, "color": "#d0a0b4"},
            {"offset": 0.96, "color": "#222"}, {"offset": 0.985, "color": "#d0a0b4"}, {"offset": 1, "color": "#d0a0b4"}
          ]}},
          "encoding": {"shape": {"field": "rotulo", "type": "nominal", "scale": {"range": ["M-1,-0.5H1V0.5H-1Z"]},
            "legend": {"title": null, "orient": "none", "legendX": 2.5, "legendY": -55.5, "padding": 0, "symbolSize": 1156, "symbolOpacity": 1, "symbolStrokeWidth": 1.5, "labelFontSize": 14.5, "labelFont": "Liberation Sans", "labelFontWeight": "bold", "labelColor": "black", "labelOffset": 3, "labelLimit": 400}}}
        },
        {
          "data": {"values": [{"rotulo": "Fração Acumulativa [%]"}]},
          "mark": {"type": "point", "filled": true, "fill": "red", "stroke": "red", "strokeWidth": 2, "opacity": 0},
          "encoding": {"shape": {"field": "rotulo", "type": "nominal", "scale": {"range": ["M-1,0H1M-0.45,0A0.45,0.45,0,1,1,0.45,0A0.45,0.45,0,1,1,-0.45,0Z"]},
            "legend": {"title": null, "orient": "none", "legendX": 2.5, "legendY": -37.5, "padding": 0, "symbolSize": 1156, "symbolOpacity": 1, "symbolStrokeWidth": 2, "labelFontSize": 14.5, "labelFont": "Liberation Sans", "labelFontWeight": "bold", "labelColor": "black", "labelOffset": 3, "labelLimit": 400}}}
        },
        {
          "data": {"values": [{"rotulo": "(b)"}]},
          "mark": {"type": "point", "filled": true, "fill": "black", "stroke": "black", "strokeWidth": 0, "opacity": 0},
          "encoding": {"shape": {"field": "rotulo", "type": "nominal", "scale": {"range": ["M-1,-1H1V0.531H-1Z"]},
            "legend": {"title": null, "orient": "none", "legendX": -79, "legendY": -119, "padding": 0, "symbolSize": 6561, "symbolOpacity": 1, "symbolStrokeWidth": 0, "labelFontSize": 25, "labelFont": "Liberation Sans", "labelFontWeight": "bold", "labelColor": "white", "labelAlign": "center", "labelBaseline": "alphabetic", "labelOffset": -40.5}}}
        }
      ]
    }
  ],
  "spacing": 20
}
